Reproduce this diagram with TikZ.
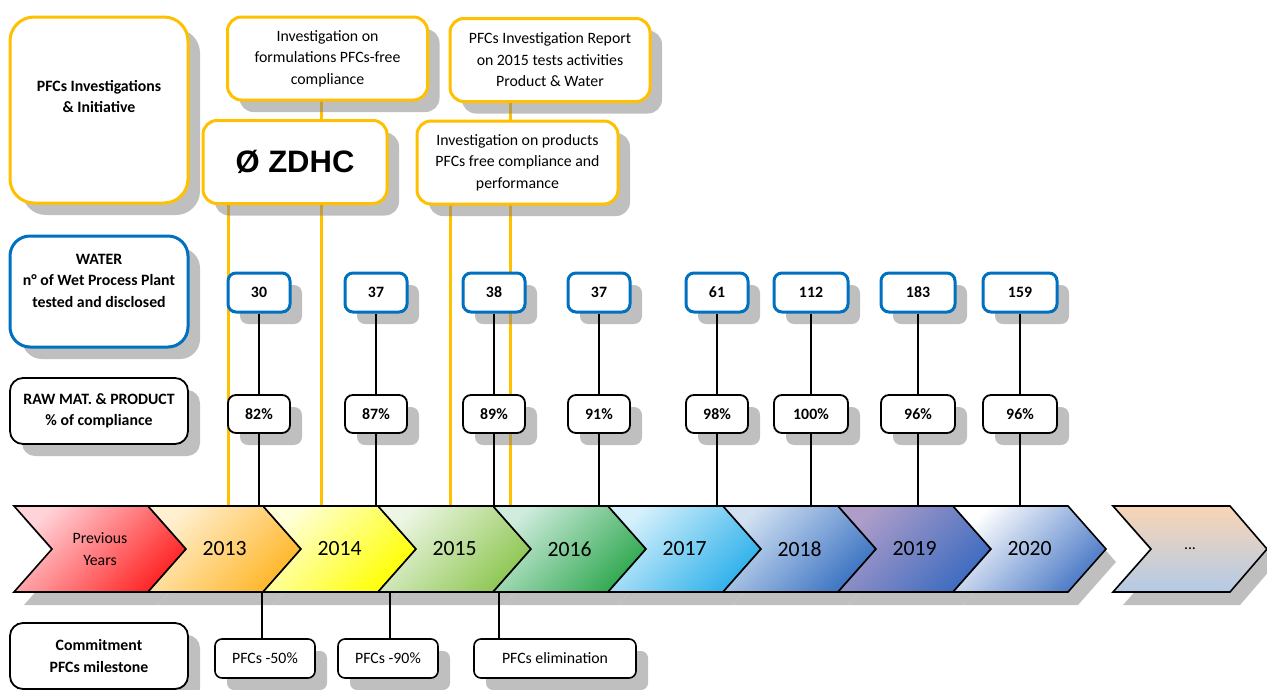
\documentclass[tikz,border=0pt]{standalone}
\usepackage{fontspec}
\setmainfont{Carlito}
\newfontfamily\logofont{Liberation Sans}
\usepackage{tikz}
\usetikzlibrary{shadows,backgrounds,calc}

\definecolor{pfcyellow}{HTML}{FFC000}
\definecolor{pfcblue}{HTML}{0070C0}
\definecolor{prevA}{HTML}{FFD3D8}\definecolor{prevB}{HTML}{FF2424}
\definecolor{c13a}{HTML}{FFF0D2}\definecolor{c13b}{HTML}{FFB628}
\definecolor{c14a}{HTML}{FFFFDA}\definecolor{c14b}{HTML}{FFFF00}
\definecolor{c15a}{HTML}{EDF6E4}\definecolor{c15b}{HTML}{8DC652}
\definecolor{c16a}{HTML}{CFECDD}\definecolor{c16b}{HTML}{2FA84F}
\definecolor{c17a}{HTML}{D7F1FC}\definecolor{c17b}{HTML}{2DB0EA}
\definecolor{c18a}{HTML}{D2E1F2}\definecolor{c18b}{HTML}{3A72C2}
\definecolor{c19a}{HTML}{AE9DC9}\definecolor{c19b}{HTML}{3C6BC0}
\definecolor{c20a}{HTML}{FFFFFF}\definecolor{c20b}{HTML}{4A79C6}
\definecolor{moreA}{HTML}{F9D5B5}\definecolor{moreB}{HTML}{B3CAE6}

\tikzset{
  txt/.style={font=\fontsize{15.8}{21.5}\selectfont, align=center},
  btxt/.style={font=\fontsize{15.8}{21.5}\selectfont\bfseries, align=center},
  box/.style={fill=white, inner sep=0pt,
    drop shadow={shadow xshift=12pt, shadow yshift=-12pt, opacity=.5, fill=black!50}},
  head/.style={box, minimum width=178, rounded corners=20pt},
  ybox/.style={box, txt, draw=pfcyellow, line width=3pt, rounded corners=14pt,
    minimum width=200, minimum height=83},
  wbox/.style={box, btxt, draw=pfcblue, line width=3pt, rounded corners=8pt, minimum height=39},
  pbox/.style={box, btxt, draw=black, line width=1.8pt, rounded corners=8pt, minimum height=38},
  mbox/.style={box, txt, draw=black, line width=1.6pt, rounded corners=7pt, minimum height=39},
  link/.style={line width=1.6pt},
  ylink/.style={draw=pfcyellow, line width=3pt},
  chev/.style 2 args={draw=black, line width=1.6pt, top color=#1, bottom color=#2, shading angle=45},
  yearlab/.style={font=\fontsize{21.7}{22}\selectfont}
}

\begin{document}
\begin{tikzpicture}[x=1pt,y=-1pt]
    \useasboundingbox (0,0) rectangle (1267,689);

    % Timeline shadows
    \fill[black!25] (24,519) -- (158,519) -- (196,562) -- (158,605) -- (24,605) -- (62,562) -- cycle;
    \foreach \x in {148,263,...,953}
        \fill[black!25] ({\x+10},519) -- ++(115,0) -- ++(38,43) -- ++(-38,43) -- ++(-115,0) -- ++(38,-43) -- cycle;
    \fill[black!25] (1123,519) -- (1240,519) -- (1277,562) -- (1240,605) -- (1123,605) -- (1161,562) -- cycle;

    % Timeline
    \draw[chev={prevA}{prevB}] (14,506) -- (148,506) -- (186,549) -- (148,592) -- (14,592) -- (52,549) -- cycle;
    \node[txt] (prev) at (100,549) {Previous\\Years};
    \foreach \x/\yr/\ca/\cb in {148/2013/c13a/c13b, 263/2014/c14a/c14b, 378/2015/c15a/c15b,
        493/2016/c16a/c16b, 608/2017/c17a/c17b, 723/2018/c18a/c18b, 838/2019/c19a/c19b, 953/2020/c20a/c20b} {
        \draw[chev={\ca}{\cb}] (\x,506) -- ++(115,0) -- ++(38,43) -- ++(-38,43) -- ++(-115,0) -- ++(38,-43) -- cycle;
        \node[yearlab] (y\yr) at ({\x+76.5},549) {\yr};
    }
    \draw[draw=black, line width=1.6pt, top color=moreA, bottom color=moreB]
        (1113,506) -- (1230,506) -- (1267,549) -- (1230,592) -- (1113,592) -- (1151,549) -- cycle;
    \node[txt] (more) at (1190,549) {...};

    \coordinate (top) at (0,506);
    \coordinate (bot) at (0,592);

    % Row headings
    \node[head, draw=pfcyellow, line width=3pt, minimum height=186, rounded corners=24pt] (inv) at (99,110) {};
    \node[btxt] (invtxt) at (99,96.5) {PFCs Investigations\\\& Initiative};
    \node[head, draw=pfcblue, line width=3pt, minimum height=111] (water) at (99,291.5) {};
    \node[btxt] (watertxt) at (99,280.5) {WATER\\n° of Wet Process Plant\\tested and disclosed};
    \node[head, btxt, draw=black, line width=1.8pt, minimum height=66, rounded corners=13pt] (raw) at (99,411) {RAW MAT. \& PRODUCT\\\% of compliance};
    \node[head, btxt, draw=black, line width=1.8pt, minimum height=66, rounded corners=13pt] (commit) at (99,656) {Commitment\\PFCs milestone};

    % Investigations
    \node[ybox] (form) at (327.5,58.5) {Investigation on\\formulations PFCs-free\\compliance};
    \node[ybox, minimum width=184] (zdhc) at (295,162) {\logofont\bfseries\fontsize{31}{31}\selectfont Ø ZDHC};
    \node[ybox] (rep) at (550,60) {PFCs Investigation Report\\on 2015 tests activities\\Product \& Water};
    \node[ybox, minimum width=201] (prod) at (517.5,162.5) {Investigation on products\\PFCs free compliance and\\performance};

    \begin{scope}[on background layer]
        \coordinate (ya) at (228,506);
        \coordinate (yb) at (321,506);
        \coordinate (yc) at (450,506);
        \coordinate (yd) at (510,506);
        \draw[ylink] (ya) -- (ya |- zdhc.center);
        \draw[ylink] (yb) -- (yb |- form.center);
        \draw[ylink] (yc) -- (yc |- prod.center);
        \draw[ylink] (yd) -- (yd |- rep.center);
    \end{scope}

    % Water and compliance values
    \foreach \x/\w/\p/\bw [count=\i] in {259/30/82/62, 376/37/87/62, 494/38/89/62, 599/37/91/62,
        717/61/98/62, 811/112/100/74, 918/183/96/74, 1020/159/96/74} {
        \node[wbox, minimum width=\bw] (w\i) at (\x,292.5) {\w};
        \node[pbox, minimum width=\bw] (p\i) at (\x,414) {\p\%};
        \draw[link] (w\i) -- (p\i);
        \draw[link] (p\i) -- (p\i |- top);
    }

    % Milestones
    \node[mbox, minimum width=100] (m50) at (265,658.5) {PFCs -50\%};
    \node[mbox, minimum width=100] (m90) at (388,658.5) {PFCs -90\%};
    \node[mbox, minimum width=162] (mel) at (555,658.5) {PFCs elimination};
    \coordinate (ma) at (262,592);
    \coordinate (mb) at (390,592);
    \coordinate (mc) at (499,592);
    \draw[link] (ma) -- (ma |- m50.north);
    \draw[link] (mb) -- (mb |- m90.north);
    \draw[link] (mc) -- (mc |- mel.north);
\end{tikzpicture}
\end{document}
